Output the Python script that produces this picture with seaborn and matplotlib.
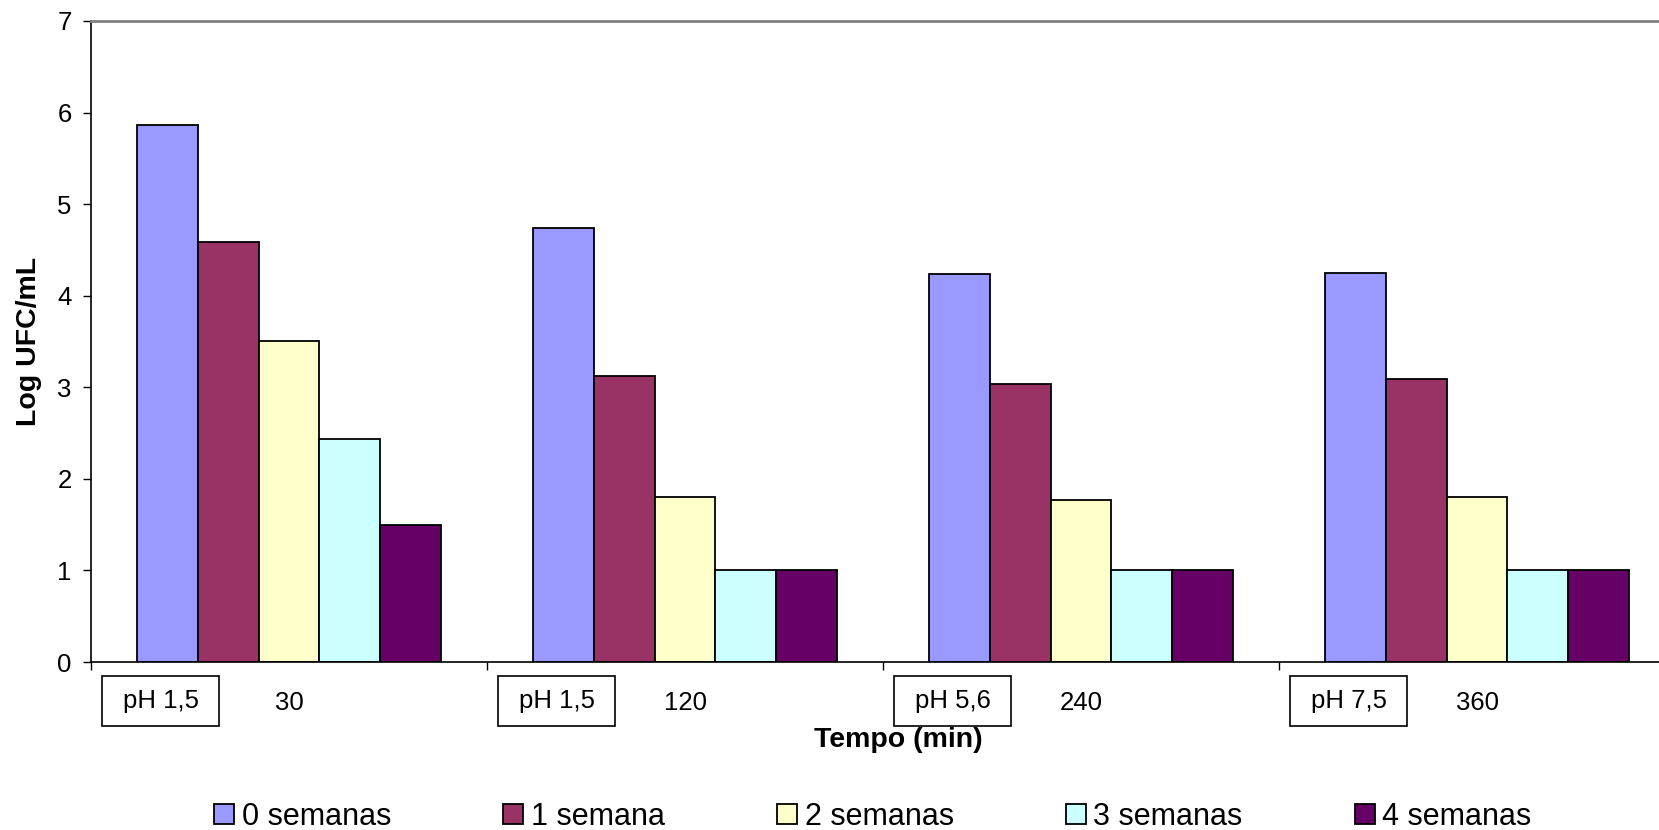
import matplotlib
matplotlib.use("Agg")
import matplotlib.pyplot as plt
from matplotlib.patches import Patch, Rectangle
import pandas as pd
import seaborn as sns

# Sampling times (min) and the pH of each stage
tempo = ["30", "120", "240", "360"]
ph = ["pH 1,5", "pH 1,5", "pH 5,6", "pH 7,5"]

# Storage time series
semanas = ["0 semanas", "1 semana", "2 semanas", "3 semanas", "4 semanas"]
sem0 = [5.86, 4.74, 4.24, 4.25]
sem1 = [4.59, 3.12, 3.04, 3.09]
sem2 = [3.50, 1.80, 1.77, 1.80]
sem3 = [2.44, 1.00, 1.00, 1.00]
sem4 = [1.50, 1.00, 1.00, 1.00]
cores = ["#9999FF", "#993366", "#FFFFCC", "#CCFFFF", "#660066"]

series = [sem0, sem1, sem2, sem3, sem4]
df = pd.DataFrame(
    [(t, s, v) for s, vals in zip(semanas, series) for t, v in zip(tempo, vals)],
    columns=["tempo", "semana", "valor"],
)

plt.rcParams["font.family"] = ["Liberation Sans", "DejaVu Sans"]

W, H = 1659, 830
fig = plt.figure(figsize=(W / 100, H / 100), dpi=100)
ax_left, ax_bottom, ax_w, ax_h = 91, 168, 1584, 641
ax = fig.add_axes([ax_left / W, ax_bottom / H, ax_w / W, ax_h / H])

sns.barplot(
    data=df, x="tempo", y="valor", hue="semana",
    order=tempo, hue_order=semanas, palette=cores,
    width=5 / 6.5, saturation=1, edgecolor="black", linewidth=1.3,
    errorbar=None, legend=False, ax=ax,
)

# pH boxes under each group
xt = ax.get_xaxis_transform()
for i, lab in enumerate(ph):
    x0 = i - 0.5 + 0.028
    ax.add_patch(Rectangle((x0, -0.0998), 0.2955, 0.078, transform=xt,
                           fill=False, edgecolor="black", linewidth=1.2,
                           clip_on=False))
    ax.text(x0 + 0.1478, -0.0608, lab, transform=xt, ha="center",
            va="center", fontsize=18.5)

ax.set_xlim(-0.5, 3.5)
ax.set_ylim(0, 7)
ax.set_yticks(range(8))
ax.set_xticks(range(len(tempo)), tempo)
ax.set_xticks([-0.5, 0.5, 1.5, 2.5, 3.5], minor=True)
ax.tick_params(axis="x", which="major", length=0, pad=21, labelsize=18.5)
ax.tick_params(axis="x", which="minor", length=6, width=1, direction="out",
               color="black", bottom=True)
ax.tick_params(axis="y", length=6, width=1, pad=8, labelsize=18.5,
               direction="out", left=True, color="black")

ax.spines["top"].set_color("#808080")
ax.spines["top"].set_linewidth(2)
ax.spines["right"].set_visible(False)
for s in ("left", "bottom"):
    ax.spines[s].set_color("black")
    ax.spines[s].set_linewidth(1.2)

ax.set_ylabel("Log UFC/mL", fontsize=20.5, fontweight="bold")
ax.yaxis.set_label_coords(-0.031, 0.5)
ax.set_xlabel("Tempo (min)", fontsize=20.5, fontweight="bold")
ax.xaxis.set_label_coords(0.5095, -0.101)

handles = [Patch(facecolor=c, edgecolor="black", linewidth=1.3) for c in cores]
fig.legend(handles, semanas, loc="center", bbox_to_anchor=(873 / W, 13 / H),
           ncol=5, frameon=False, fontsize=22, handlelength=0.65,
           handleheight=0.65, handletextpad=0.25, columnspacing=3.67,
           borderpad=0, borderaxespad=0)

fig.savefig("out.png", dpi=100)
